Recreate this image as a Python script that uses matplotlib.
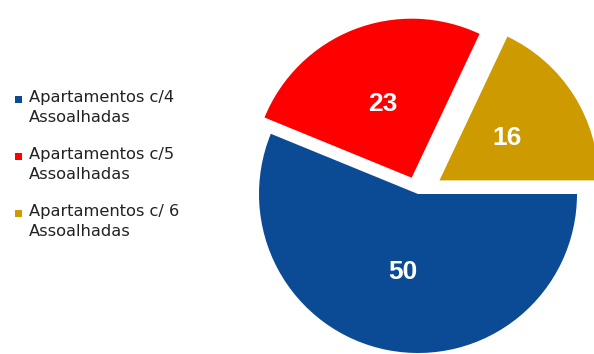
import matplotlib.pyplot as plt
from matplotlib.patches import Rectangle

labels = ["Apartamentos c/4\nAssoalhadas", "Apartamentos c/5\nAssoalhadas", "Apartamentos c/ 6\nAssoalhadas"]
values = [50, 23, 16]
colors = ["#0b4b95", "#fe0000", "#cd9a00"]
explode = [0.0, 0.11, 0.16]

W, H = 594, 354
fig = plt.figure(figsize=(W / 100, H / 100), dpi=100)
fig.patch.set_facecolor("white")

# pie placed in pixel terms: centre (418, 194), radius 159 px
cx, cy, r, lim = 418, 194, 159, 1.35
side = 2 * lim * r
ax = fig.add_axes([(cx - side / 2) / W, (H - cy - side / 2) / H, side / W, side / H])
ax.pie(
    values,
    colors=colors,
    explode=explode,
    startangle=0,
    counterclock=False,
    autopct=lambda p: f"{p * sum(values) / 100:.0f}",
    pctdistance=0.5,
    textprops=dict(color="white", fontsize=19, fontweight="bold", family="Liberation Sans"),
    wedgeprops=dict(linewidth=0),
)
ax.set_xlim(-lim, lim)
ax.set_ylim(-lim, lim)
ax.set_axis_off()

# legend drawn by hand so the swatch sits on the first line
for i, (lab, col) in enumerate(zip(labels, colors)):
    y = 99 + 57 * i
    fig.patches.append(Rectangle((15 / W, (H - y - 3.5) / H), 7 / W, 7 / H,
                                 transform=fig.transFigure, facecolor=col, edgecolor="none"))
    fig.text(29 / W, (H - y + 9) / H, lab, ha="left", va="top", fontsize=11.7,
             family="DejaVu Sans", color="#222222", linespacing=1.4,
             transform=fig.transFigure)

fig.savefig("out.png", dpi=100, facecolor="white")
